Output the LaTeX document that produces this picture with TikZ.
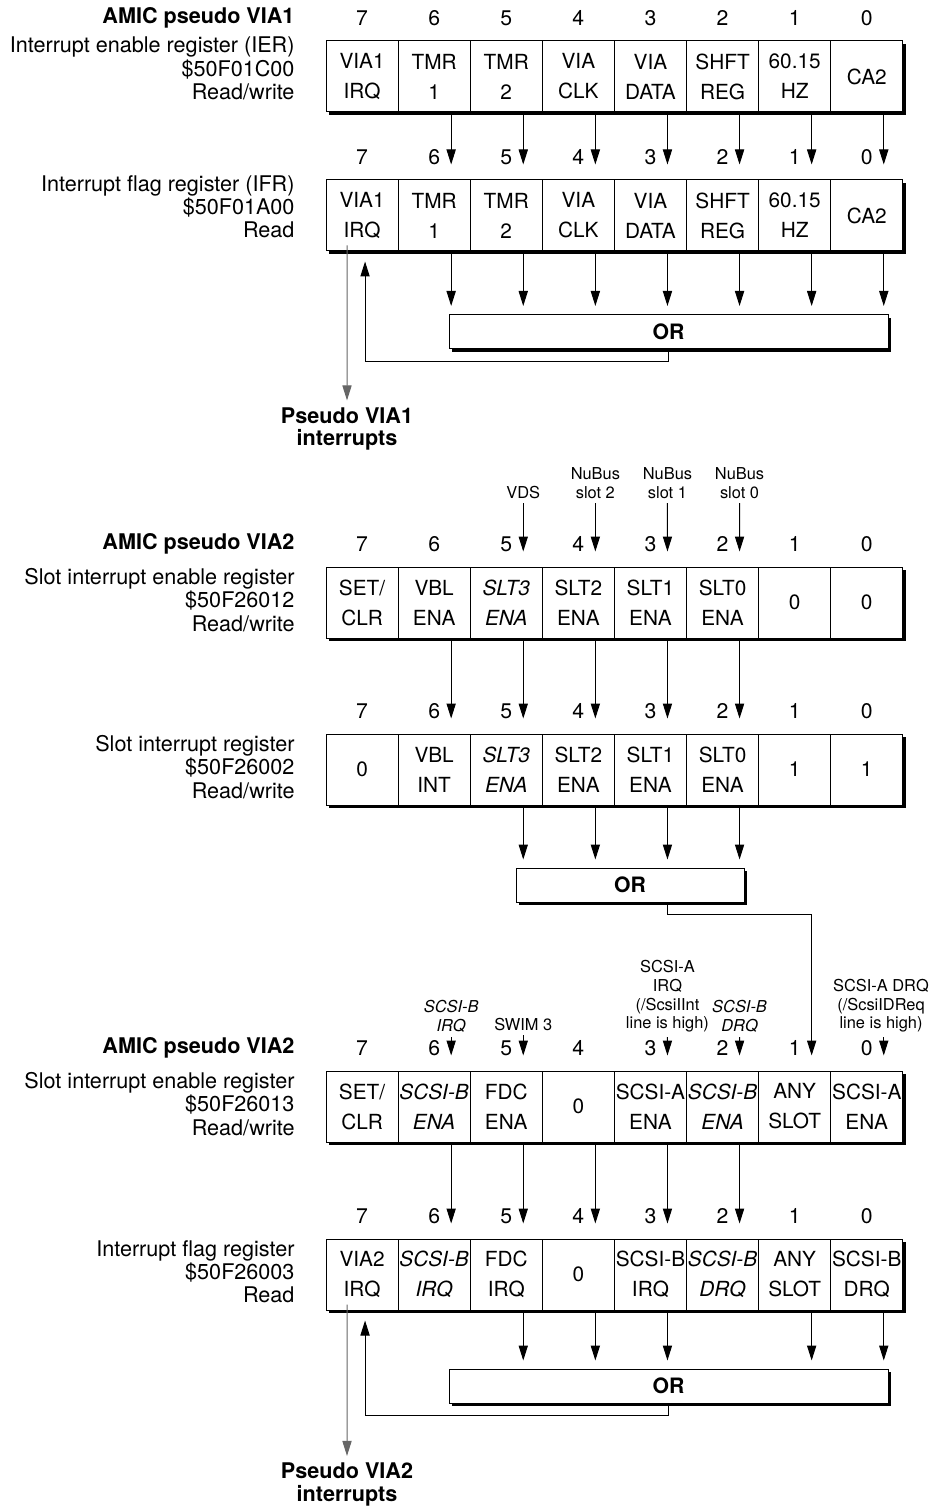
\documentclass[tikz,border=0pt]{standalone}
\usepackage{fontspec}
\setmainfont{TeX Gyre Heros}
\usepackage{tikz}
\usetikzlibrary{arrows.meta, shadows}

\newcommand{\regrow}[3]{%
  \foreach \t [count=\i] in {#3} {%
    \pgfmathtruncatemacro{\b}{8-\i}
    \node[cell] (#1-\b) at (289.95+72.1*\i, #2+35.5) {\t};
    \node[bitno] (#1-n\b) at (289.95+72.1*\i, #2-23) {\b};
    \coordinate (#1-\b-in) at ([xshift=8.5pt]#1-\b.north);
    \coordinate (#1-\b-out) at ([xshift=8.5pt]#1-\b.south);
  }%
}

\begin{document}
\begin{tikzpicture}[
        x=0.5pt, y=-0.5pt, line width=0.5pt,
        cell/.style = {draw, fill=white, minimum width=36.05pt, minimum height=35.5pt, inner sep=0pt, align=center, font=\fontsize{10.4}{15}\selectfont, drop shadow={shadow xshift=1.7pt, shadow yshift=-1.7pt, fill=black, opacity=1}},
        bitno/.style = {inner sep=0pt, font=\fontsize{10.6}{12}\selectfont},
        regname/.style = {anchor=east, inner sep=0pt, align=right, font=\fontsize{10.8}{11.6}\selectfont},
        viatitle/.style = {anchor=east, inner sep=0pt, font=\fontsize{10.8}{12}\selectfont\bfseries},
        source/.style = {anchor=south, align=center, inner sep=2pt, font=\fontsize{8.2}{9.4}\selectfont},
        gate/.style = {draw, fill=white, minimum height=17pt, inner sep=0pt, font=\fontsize{10.6}{12}\selectfont\bfseries, drop shadow={shadow xshift=1.7pt, shadow yshift=-1.7pt, fill=black, opacity=1}},
        result/.style = {align=center, font=\fontsize{10.8}{11.2}\selectfont\bfseries},
        sig/.style = {-{Triangle[length=7.5pt, width=4.6pt]}, shorten >=7.5pt},
        tap/.style = {sig, draw=black!60, shorten >=0pt},
    ]
        \useasboundingbox (0,0) rectangle (935,1508);

        \node[viatitle] (via1) at (295,18) {AMIC pseudo VIA1};
        \regrow{ier1}{41}{{VIA1\\IRQ},{TMR\\1},{TMR\\2},{VIA\\CLK},{VIA\\DATA},{SHFT\\REG},{60.15\\HZ},{CA2}}
        \node[regname] (ier1-name) at (295,68.5) {Interrupt enable register (IER)\\\$50F01C00\\Read/write};
        \regrow{ifr1}{180}{{VIA1\\IRQ},{TMR\\1},{TMR\\2},{VIA\\CLK},{VIA\\DATA},{SHFT\\REG},{60.15\\HZ},{CA2}}
        \node[regname] (ifr1-name) at (295,207) {Interrupt flag register (IFR)\\\$50F01A00\\Read};
        \node[gate, minimum width=219.5pt] (or1) at (668.5,331.5) {OR};
        \node[result] (pv1) at (347,429) {Pseudo VIA1\\interrupts};

        \foreach \b in {6,...,0} \draw[sig] (ier1-\b-out) -- (ifr1-\b-in);
        \foreach \b in {6,...,0} \draw[sig, shorten >=4pt] (ifr1-\b-out) -- (ifr1-\b-out |- or1.north);
        \draw[sig, shorten >=5pt] (or1.south) -- ++(0,12) -| ([xshift=1.5pt]ifr1-7.south);
        \draw[tap] ([xshift=-7.5pt, yshift=3pt]ifr1-7.south) -- (pv1.north);

        \node[viatitle] (via2) at (295,544) {AMIC pseudo VIA2};
        \node[source] (vds) at (523.25,503) {VDS};
        \node[source] (nb2) at (595.35,503) {NuBus\\slot 2};
        \node[source] (nb1) at (667.45,503) {NuBus\\slot 1};
        \node[source] (nb0) at (739.55,503) {NuBus\\slot 0};
        \regrow{sier}{567}{{SET/\\CLR},{VBL\\ENA},{\textit{SLT3}\\\textit{ENA}},{SLT2\\ENA},{SLT1\\ENA},{SLT0\\ENA},{0},{0}}
        \node[regname] (sier-name) at (295,600) {Slot interrupt enable register\\\$50F26012\\Read/write};
        \regrow{sir}{734}{{0},{VBL\\INT},{\textit{SLT3}\\\textit{ENA}},{SLT2\\ENA},{SLT1\\ENA},{SLT0\\ENA},{1},{1}}
        \node[regname] (sir-name) at (295,767) {Slot interrupt register\\\$50F26002\\Read/write};
        \node[gate, minimum width=114pt] (or2) at (630,885) {OR};

        \draw[sig] (vds) -- (sier-5-in);
        \draw[sig] (nb2) -- (sier-4-in);
        \draw[sig] (nb1) -- (sier-3-in);
        \draw[sig] (nb0) -- (sier-2-in);
        \foreach \b in {6,...,2} \draw[sig] (sier-\b-out) -- (sir-\b-in);
        \foreach \b in {5,...,2} \draw[sig, shorten >=4pt] (sir-\b-out) -- (sir-\b-out |- or2.north);

        \node[viatitle] (via2b) at (295,1048) {AMIC pseudo VIA2};
        \node[source] (scbirq) at (451.15,1037) {\textit{SCSI-B}\\\textit{IRQ}};
        \node[source] (swim) at (523.25,1035) {SWIM 3};
        \node[source] (scairq) at (667.45,1037) {SCSI-A\\IRQ\\(/ScsiIInt\\line is high)};
        \node[source] (scbdrq) at (739.55,1037) {\textit{SCSI-B}\\\textit{DRQ}};
        \node[source] (scadrq) at (881,1037) {SCSI-A DRQ\\(/ScsiIDReq\\line is high)};
        \regrow{ier2}{1071}{{SET/\\CLR},{\textit{SCSI-B}\\\textit{ENA}},{FDC\\ENA},{0},{SCSI-A\\ENA},{\textit{SCSI-B}\\\textit{ENA}},{ANY\\SLOT},{SCSI-A\\ENA}}
        \node[regname] (ier2-name) at (295,1104) {Slot interrupt enable register\\\$50F26013\\Read/write};
        \regrow{ifr2}{1239}{{VIA2\\IRQ},{\textit{SCSI-B}\\\textit{IRQ}},{FDC\\IRQ},{0},{SCSI-B\\IRQ},{\textit{SCSI-B}\\\textit{DRQ}},{ANY\\SLOT},{SCSI-B\\DRQ}}
        \node[regname] (ifr2-name) at (295,1272) {Interrupt flag register\\\$50F26003\\Read};
        \node[gate, minimum width=219.5pt] (or3) at (668.5,1386) {OR};
        \node[result] (pv2) at (347,1484.5) {Pseudo VIA2\\interrupts};

        \draw[sig] (sir-3-out |- or2.south) -- ++(0,12) -| (ier2-1-in);
        \draw[sig] (scbirq) -- (ier2-6-in);
        \draw[sig] (swim) -- (ier2-5-in);
        \draw[sig] (scairq) -- (ier2-3-in);
        \draw[sig] (scbdrq) -- (ier2-2-in);
        \draw[sig] (scadrq.south -| ier2-0-in) -- (ier2-0-in);
        \foreach \b in {6,...,2} \draw[sig] (ier2-\b-out) -- (ifr2-\b-in);
        \foreach \b in {5,4,3,1,0} \draw[sig, shorten >=4pt] (ifr2-\b-out) -- (ifr2-\b-out |- or3.north);
        \draw[sig, shorten >=5pt] (or3.south) -- ++(0,12) -| ([xshift=1.5pt]ifr2-7.south);
        \draw[tap] ([xshift=-7.5pt, yshift=3pt]ifr2-7.south) -- (pv2.north);
    \end{tikzpicture}
\end{document}
